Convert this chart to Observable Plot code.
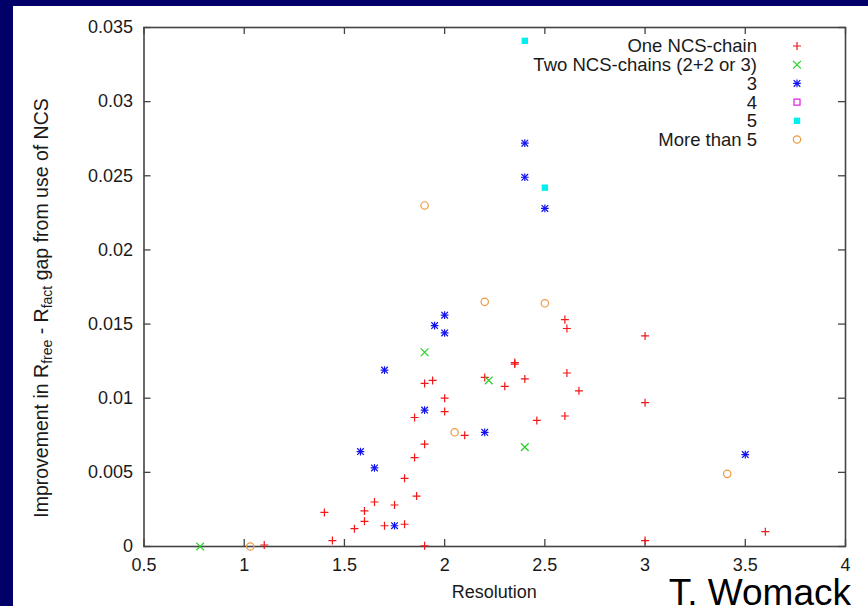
<!DOCTYPE html>
<html><head><meta charset="utf-8">
<script src="https://cdn.jsdelivr.net/npm/d3@7"></script>
<script src="https://cdn.jsdelivr.net/npm/@observablehq/plot@0.6"></script>
<style>
html,body{margin:0;padding:0;background:#000068;}
body{width:868px;height:606px;overflow:hidden;position:relative;}
#chart{position:absolute;left:13px;top:6px;width:855px;height:600px;background:#fff;overflow:hidden;}
#chart svg{display:block;font-family:"Liberation Sans",Arial,sans-serif;}
</style></head><body><div id="chart"></div>
<script>
// ---- data ----
const seriesNames = ["One NCS-chain", "Two NCS-chains (2+2 or 3)", "3", "4", "5", "More than 5"];
const oneRes = [1.1, 1.4, 1.44, 1.55, 1.6, 1.6, 1.65, 1.7, 1.75, 1.8, 1.8, 1.86, 1.85, 1.9, 1.85, 1.9, 2.0, 2.0, 2.1, 1.9, 1.94, 2.2, 2.35, 2.35, 2.4, 2.3, 2.6, 2.61, 2.61, 2.67, 2.6, 2.46, 3.0, 3.0, 3.0, 3.6];
const oneGap = [0.0001, 0.0023, 0.0004, 0.0012, 0.0024, 0.0017, 0.003, 0.0014, 0.0028, 0.0015, 0.0046, 0.0034, 0.006, 0.0069, 0.0087, 0.00005, 0.0091, 0.0100, 0.0075, 0.011, 0.0112, 0.0114, 0.0123, 0.0124, 0.0113, 0.0108, 0.0153, 0.0147, 0.0117, 0.0105, 0.0088, 0.0085, 0.0142, 0.0097, 0.0004, 0.001];
const twoRes = [0.78, 1.9, 2.22, 2.4];
const twoGap = [0, 0.0131, 0.0112, 0.0067];
const threeRes = [1.58, 1.65, 1.75, 1.9, 1.7, 1.95, 2.0, 2.0, 2.2, 2.4, 2.4, 2.5, 3.5];
const threeGap = [0.0064, 0.0053, 0.0014, 0.0092, 0.0119, 0.0149, 0.0156, 0.0144, 0.0077, 0.0272, 0.0249, 0.0228, 0.0062];
const fourRes = [];
const fourGap = [];
const fiveRes = [2.4, 2.5];
const fiveGap = [0.0341, 0.0242];
const moreRes = [1.03, 1.9, 2.05, 2.2, 2.5, 3.41];
const moreGap = [0, 0.0230, 0.0077, 0.0165, 0.0164, 0.0049];
const xTicks = [0.5, 1, 1.5, 2, 2.5, 3, 3.5, 4];
const yTicks = [0, 0.005, 0.01, 0.015, 0.02, 0.025, 0.03, 0.035];
const xLabel = "Resolution";
const credit = "T. Womack";

// ---- styling ----
const colors = ["#f01818", "#22d022", "#1010f0", "#e020e0", "#00f0f0", "#ee9a44"];
const rows = (xs, ys) => xs.map((x, i) => ({x, y: ys[i]}));
const one = rows(oneRes, oneGap), two = rows(twoRes, twoGap), three = rows(threeRes, threeGap),
      four = rows(fourRes, fourGap), five = rows(fiveRes, fiveGap), more = rows(moreRes, moreGap);

const W = 855, H = 600, mL = 130.5, mR = 23, mT = 21, mB = 60;
const pw = W - mL - mR, ph = H - mT - mB;
const axisColor = "#444";

const svg = Plot.plot({
  width: W, height: H,
  marginLeft: mL, marginRight: mR, marginTop: mT, marginBottom: mB,
  style: {fontFamily: "Liberation Sans, Arial, sans-serif", fontSize: "18px", color: "#1a1a1a", background: "white"},
  x: {domain: [0.5, 4]},
  y: {domain: [0, 0.035]},
  marks: [
    Plot.tickX(xTicks, {x: d => d, insetTop: ph - 7, stroke: axisColor, strokeWidth: 1.3}),
    Plot.tickX(xTicks, {x: d => d, insetBottom: ph - 7, stroke: axisColor, strokeWidth: 1.3}),
    Plot.tickY(yTicks, {y: d => d, insetRight: pw - 7, stroke: axisColor, strokeWidth: 1.3}),
    Plot.tickY(yTicks, {y: d => d, insetLeft: pw - 7, stroke: axisColor, strokeWidth: 1.3}),
    Plot.axisX({ticks: xTicks, tickSize: 0, tickPadding: 12, tickFormat: d => String(d), label: null, fontSize: 18}),
    Plot.axisY({ticks: yTicks, tickSize: 0, tickPadding: 11, tickFormat: d => String(d), label: null, fontSize: 18}),
    Plot.frame({stroke: axisColor, strokeWidth: 1.6}),
    Plot.dot(one, {x: "x", y: "y", symbol: "plus", r: 2.7, stroke: colors[0], strokeWidth: 1.2}),
    Plot.dot(two, {x: "x", y: "y", symbol: "times", r: 3.6, stroke: colors[1], strokeWidth: 1.2}),
    Plot.dot(three, {x: "x", y: "y", symbol: "plus", r: 2.6, stroke: colors[2], strokeWidth: 1.2}),
    Plot.dot(three, {x: "x", y: "y", symbol: "times", r: 3.1, stroke: colors[2], strokeWidth: 1.2}),
    Plot.dot(four, {x: "x", y: "y", symbol: "square", r: 3.4, stroke: colors[3], strokeWidth: 1.2}),
    Plot.dot(five, {x: "x", y: "y", symbol: "square", r: 3.6, fill: colors[4], stroke: "none"}),
    Plot.dot(more, {x: "x", y: "y", symbol: "circle", r: 3.7, stroke: colors[5], strokeWidth: 1.2})
  ]
});

const s = d3.select(svg);
const ink = "#1a1a1a";

// legend (gnuplot key, top right)
const symDefs = [
  [{t: d3.symbolPlus, r: 2.7, fill: false}],
  [{t: d3.symbolTimes, r: 3.6, fill: false}],
  [{t: d3.symbolPlus, r: 2.6, fill: false}, {t: d3.symbolTimes, r: 3.1, fill: false}],
  [{t: d3.symbolSquare, r: 3.4, fill: false}],
  [{t: d3.symbolSquare, r: 3.6, fill: true}],
  [{t: d3.symbolCircle, r: 3.7, fill: false}]
];
const lgTextX = 757 - 13, lgSymX = 797 - 13, lgY0 = 46 - 6, lgStep = 18.7;
const lg = s.append("g");
seriesNames.forEach((name, i) => {
  const cy = lgY0 + i * lgStep;
  lg.append("text").attr("x", lgTextX).attr("y", cy + 6.4).attr("text-anchor", "end")
    .attr("font-size", 18.5).attr("fill", ink).text(name);
  symDefs[i].forEach(d => {
    lg.append("path").attr("transform", `translate(${lgSymX},${cy})`)
      .attr("d", d3.symbol(d.t, Math.PI * d.r * d.r)())
      .attr("fill", d.fill ? colors[i] : "none")
      .attr("stroke", d.fill ? "none" : colors[i]).attr("stroke-width", 1.2);
  });
});

// x label
s.append("text").attr("x", mL + pw / 2).attr("y", 598 - 6).attr("text-anchor", "middle")
  .attr("font-size", 18).attr("fill", ink).text(xLabel);

// y label with subscripts
const yl = s.append("text").attr("transform", `translate(${48 - 13},${308 - 6}) rotate(-90)`)
  .attr("text-anchor", "middle").attr("font-size", 19.5).attr("fill", ink);
yl.append("tspan").text("Improvement in R");
yl.append("tspan").attr("font-size", 14).attr("dy", 4).text("free");
yl.append("tspan").attr("dy", -4).text(" - R");
yl.append("tspan").attr("font-size", 14).attr("dy", 4).text("fact");
yl.append("tspan").attr("dy", -4).text(" gap from use of NCS");

// credit
s.append("text").attr("x", 851 - 13).attr("y", 605 - 6).attr("text-anchor", "end")
  .attr("font-size", 37).attr("fill", "#000")
  .text(credit);

document.getElementById("chart").appendChild(svg);
</script></body></html>
